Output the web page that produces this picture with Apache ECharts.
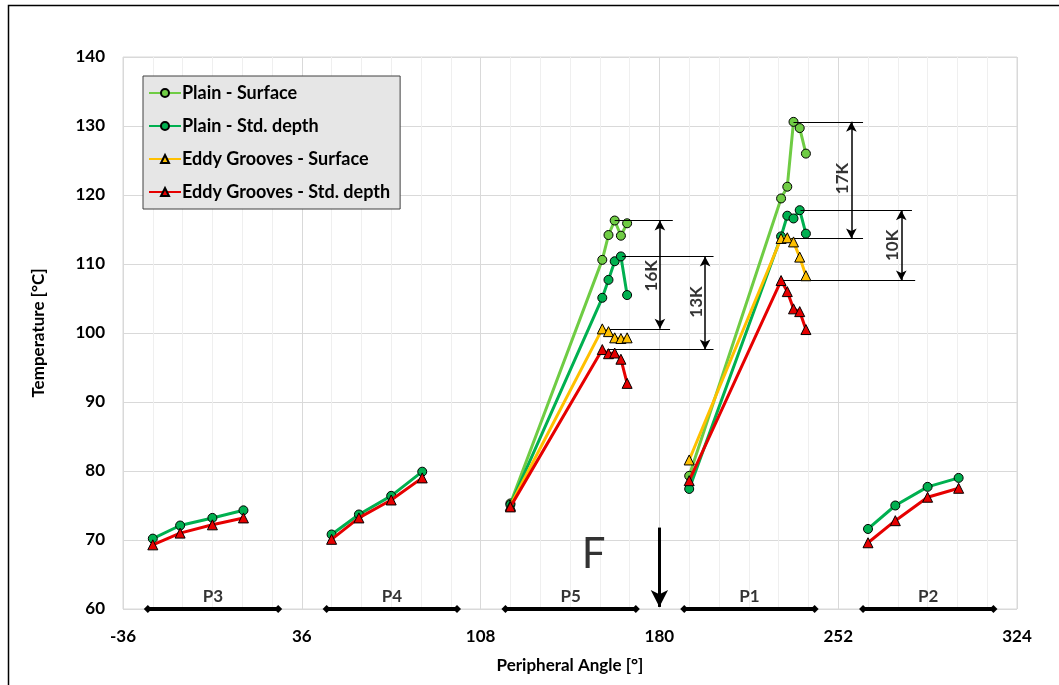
<!doctype html>
<html lang="en">
<head>
    <meta charset="UTF-8">
    <title>Peripheral temperature</title>
    <style>
        html, body{margin:0; padding:0; background:#fff;}
        #chart{width:1059px; height:685px;}
    </style>
</head>
<body>
<div id="chart"></div>
<script src="https://cdn.jsdelivr.net/npm/echarts@6/dist/echarts.min.js"></script>
<script>
    // sensor angles per segment
    var xP3 = [-24, -13, 0, 12.5];
    var xP4 = [48, 59, 72, 84.5];
    var xP5 = [120, 157, 159.5, 162, 164.5, 167];
    var xP1 = [192, 229, 231.5, 234, 236.5, 239];
    var xP2 = [264, 275, 288, 300.5];

    // Plain - Surface
    var plainSurfP5 = [75.3, 110.6, 114.2, 116.3, 114.1, 115.9];
    var plainSurfP1 = [79.3, 119.5, 121.2, 130.6, 129.7, 126.0];
    // Plain - Std. depth
    var plainStdP3 = [70.2, 72.1, 73.2, 74.3];
    var plainStdP4 = [70.8, 73.7, 76.4, 79.9];
    var plainStdP5 = [75.1, 105.1, 107.7, 110.4, 111.1, 105.5];
    var plainStdP1 = [77.4, 114.0, 117.0, 116.6, 117.8, 114.4];
    var plainStdP2 = [71.6, 75.0, 77.7, 79.0];
    // Eddy Grooves - Surface
    var eddySurfP5 = [75.0, 100.6, 100.2, 99.3, 99.2, 99.3];
    var eddySurfP1 = [81.6, 113.7, 113.8, 113.2, 111.0, 108.3];
    // Eddy Grooves - Std. depth
    var eddyStdP3 = [69.3, 71.0, 72.2, 73.2];
    var eddyStdP4 = [70.1, 73.2, 75.8, 79.0];
    var eddyStdP5 = [74.8, 97.6, 97.0, 97.1, 96.2, 92.7];
    var eddyStdP1 = [78.6, 107.6, 106.0, 103.5, 103.1, 100.5];
    var eddyStdP2 = [69.6, 72.8, 76.2, 77.5];

    var seriesNames = ['Plain - Surface', 'Plain - Std. depth', 'Eddy Grooves - Surface', 'Eddy Grooves - Std. depth'];
    var seriesColors = ['#6fcc44', '#00b050', '#ffc000', '#e60000'];

    // segment bars along the bottom
    var segNames = ['P3', 'P4', 'P5', 'P1', 'P2'];
    var segStart = [-26, 46, 118, 190, 262];
    var segEnd = [26.5, 98.5, 170.5, 242.5, 314.5];

    // temperature difference labels
    var dimNames = ['16K', '13K', '17K', '10K'];

    function pairs(xs, ys) {
        var out = [];
        for (var i = 0; i < xs.length; i++) out.push([xs[i], ys[i]]);
        return out;
    }
    function joined(parts) {
        var out = [];
        parts.forEach(function (p, i) {
            if (i > 0) out.push(null);
            out = out.concat(p);
        });
        return out;
    }

    var FONT = 'Lato';
    var chart = echarts.init(document.getElementById('chart'));

    function lineSeries(idx, data, symbol, size) {
        return {
            name: seriesNames[idx],
            type: 'line',
            data: data,
            connectNulls: false,
            symbol: symbol,
            symbolSize: size,
            showAllSymbol: true,
            lineStyle: {color: seriesColors[idx], width: 3},
            itemStyle: {color: seriesColors[idx], borderColor: '#000', borderWidth: 1},
            z: 3 + idx
        };
    }

    var thin = {color: '#000', width: 1, type: 'solid'};
    var arrowStyle = {color: '#000', width: 1.5, type: 'solid'};

    chart.setOption({
        animation: false,
        textStyle: {fontFamily: FONT},
        graphic: [{
            type: 'rect',
            shape: {x: 8.5, y: 5.5, width: 1100, height: 720},
            style: {fill: 'none', stroke: '#000', lineWidth: 1.5},
            silent: true
        }],
        grid: {left: 123, right: 42, top: 57, bottom: 76, show: true, borderColor: '#d9d9d9', borderWidth: 1},
        legend: {
            orient: 'vertical',
            left: 143,
            top: 76,
            data: seriesNames,
            backgroundColor: '#e6e6e6',
            borderColor: '#404040',
            borderWidth: 1,
            padding: [7, 10, 7, 5],
            itemGap: 13,
            itemWidth: 32,
            itemHeight: 10,
            textStyle: {fontFamily: FONT, fontWeight: 'bold', fontSize: 18, lineHeight: 20, color: '#000', padding: [0, 0, 0, -4]}
        },
        xAxis: {
            type: 'value',
            min: -36,
            max: 324,
            interval: 72,
            name: 'Peripheral Angle [°]',
            nameLocation: 'middle',
            nameGap: 48,
            nameTextStyle: {fontFamily: FONT, fontWeight: 'bold', fontSize: 17, color: '#000'},
            axisLine: {show: false},
            axisTick: {show: false},
            axisLabel: {fontFamily: FONT, fontWeight: 'bold', fontSize: 17, color: '#000', margin: 19},
            splitLine: {show: true, lineStyle: {color: '#d9d9d9', width: 1}},
            minorTick: {show: false, splitNumber: 6},
            minorSplitLine: {show: true, lineStyle: {color: '#efefef', width: 1}}
        },
        yAxis: {
            type: 'value',
            min: 60,
            max: 140,
            interval: 10,
            name: 'Temperature [°C]',
            nameLocation: 'middle',
            nameGap: 76,
            nameTextStyle: {fontFamily: FONT, fontWeight: 'bold', fontSize: 17, color: '#000'},
            axisLine: {show: false},
            axisTick: {show: false},
            axisLabel: {fontFamily: FONT, fontWeight: 'bold', fontSize: 17, color: '#000', margin: 18},
            splitLine: {show: true, lineStyle: {color: '#d9d9d9', width: 1}}
        },
        series: [
            lineSeries(0, joined([pairs(xP5, plainSurfP5), pairs(xP1, plainSurfP1)]), 'circle', 9),
            lineSeries(1, joined([pairs(xP3, plainStdP3), pairs(xP4, plainStdP4), pairs(xP5, plainStdP5),
                pairs(xP1, plainStdP1), pairs(xP2, plainStdP2)]), 'circle', 9),
            lineSeries(2, joined([pairs(xP5, eddySurfP5), pairs(xP1, eddySurfP1)]), 'triangle', 10),
            lineSeries(3, joined([pairs(xP3, eddyStdP3), pairs(xP4, eddyStdP4), pairs(xP5, eddyStdP5),
                pairs(xP1, eddyStdP1), pairs(xP2, eddyStdP2)]), 'triangle', 10),
            // annotations: reference lines, dimension arrows, segment bars, force arrow
            {
                name: 'annot',
                type: 'line',
                data: [],
                z: 2,
                markLine: {
                    silent: true,
                    animation: false,
                    label: {show: false},
                    emphasis: {disabled: true},
                    data: [
                        // horizontal reference lines
                        [{coord: [162, 116.3], symbol: 'none', lineStyle: thin}, {coord: [185.4, 116.3], symbol: 'none'}],
                        [{coord: [158.5, 100.6], symbol: 'none', lineStyle: thin}, {coord: [184.3, 100.6], symbol: 'none'}],
                        [{coord: [165, 111.1], symbol: 'none', lineStyle: thin}, {coord: [201.8, 111.1], symbol: 'none'}],
                        [{coord: [159, 97.6], symbol: 'none', lineStyle: thin}, {coord: [201.8, 97.6], symbol: 'none'}],
                        [{coord: [234, 130.6], symbol: 'none', lineStyle: thin}, {coord: [262, 130.6], symbol: 'none'}],
                        [{coord: [231, 113.7], symbol: 'none', lineStyle: thin}, {coord: [262, 113.7], symbol: 'none'}],
                        [{coord: [236.8, 117.8], symbol: 'none', lineStyle: thin}, {coord: [281.7, 117.8], symbol: 'none'}],
                        [{coord: [229.5, 107.6], symbol: 'none', lineStyle: thin}, {coord: [283, 107.6], symbol: 'none'}],
                        // dimension arrows
                        [{coord: [180.2, 116.3], symbol: 'arrow', symbolSize: [8, 10], lineStyle: arrowStyle}, {coord: [180.2, 100.6], symbol: 'arrow', symbolSize: [8, 10]}],
                        [{coord: [198.4, 111.1], symbol: 'arrow', symbolSize: [8, 10], lineStyle: arrowStyle}, {coord: [198.4, 97.6], symbol: 'arrow', symbolSize: [8, 10]}],
                        [{coord: [257.3, 130.6], symbol: 'arrow', symbolSize: [8, 10], lineStyle: arrowStyle}, {coord: [257.3, 113.7], symbol: 'arrow', symbolSize: [8, 10]}],
                        [{coord: [277.4, 117.8], symbol: 'arrow', symbolSize: [8, 10], lineStyle: arrowStyle}, {coord: [277.4, 107.6], symbol: 'arrow', symbolSize: [8, 10]}],
                        // force arrow
                        [{coord: [180, 71.8], symbol: 'none', lineStyle: {color: '#000', width: 3, type: 'solid'}}, {coord: [180, 60.3], symbol: 'arrow', symbolSize: [13, 17]}]
                    ].concat(segNames.map(function (n, i) {
                        return [
                            {coord: [segStart[i], 60], symbol: 'diamond', symbolSize: 8, lineStyle: {color: '#000', width: 4, type: 'solid'}},
                            {coord: [segEnd[i], 60], symbol: 'diamond', symbolSize: 8}
                        ];
                    }))
                }
            },
            // text annotations
            {
                name: 'labels',
                type: 'scatter',
                symbolSize: 0,
                silent: true,
                z: 6,
                data: [
                    {value: [177, 108.3], label: {show: true, formatter: dimNames[0], rotate: 90}},
                    {value: [194.8, 104.5], label: {show: true, formatter: dimNames[1], rotate: 90}},
                    {value: [253.8, 122.4], label: {show: true, formatter: dimNames[2], rotate: 90}},
                    {value: [273.8, 112.7], label: {show: true, formatter: dimNames[3], rotate: 90}},
                    {value: [153.5, 67.9], label: {show: true, formatter: 'F', fontSize: 42, fontWeight: 'normal'}}
                ].concat(segNames.map(function (n, i) {
                    return {value: [(segStart[i] + segEnd[i]) / 2, 61.8], label: {show: true, formatter: n}};
                })),
                label: {
                    position: 'inside',
                    fontFamily: FONT,
                    fontWeight: 'bold',
                    fontSize: 17,
                    color: '#000'
                }
            }
        ]
    });
</script>
</body>
</html>
